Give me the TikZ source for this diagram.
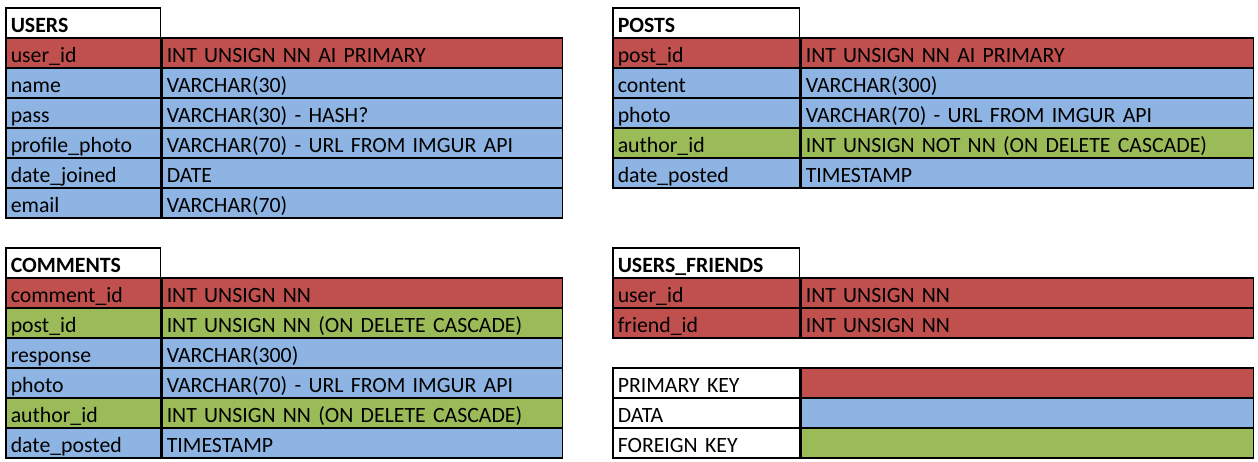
\documentclass[tikz,border=0pt]{standalone}
\usepackage{fontspec}
\setmainfont{Carlito}
\usetikzlibrary{positioning}

\definecolor{pkred}{HTML}{C0504D}
\definecolor{datblue}{HTML}{8DB4E2}
\definecolor{fkgreen}{HTML}{9BBB59}

\begin{document}
\begin{tikzpicture}[x=1pt, y=1pt, node distance=0pt,
	every node/.style={rectangle, anchor=north west, minimum height=30pt, inner xsep=5pt, inner ysep=0pt, text height=19.5pt, text depth=0.5pt, align=left, font=\fontsize{21.8}{24}\selectfont},
	cell/.style={draw, line width=1.5pt},
	keycell/.style={cell, text width=144.5pt},
	typecell/.style={cell, text width=390.5pt},
	title/.style={keycell, fill=white, font=\fontsize{21.8}{24}\selectfont\bfseries},
	pk/.style={fill=pkred}, dat/.style={fill=datblue}, fk/.style={fill=fkgreen}]
	\useasboundingbox (0,0) rectangle (1258,-461);

	% users
	\node[title] (users) at (5,-7) {USERS};
	\foreach \k/\t/\s [count=\i] in {user\_id/INT UNSIGN NN AI PRIMARY/pk, name/VARCHAR(30)/dat, pass/VARCHAR(30) - HASH?/dat, profile\_photo/VARCHAR(70) - URL FROM IMGUR API/dat, date\_joined/DATE/dat, email/VARCHAR(70)/dat}
	{
		\node[keycell, \s] (users-k\i) at (5,-7-30*\i) {\k};
		\node[typecell, \s, right=of users-k\i.north east, anchor=north west] (users-t\i) {\t};
	}

	% comments
	\node[title] (comments) at (5,-247) {COMMENTS};
	\foreach \k/\t/\s [count=\i] in {comment\_id/INT UNSIGN NN/pk, post\_id/INT UNSIGN NN (ON DELETE CASCADE)/fk, response/VARCHAR(300)/dat, photo/VARCHAR(70) - URL FROM IMGUR API/dat, author\_id/INT UNSIGN NN (ON DELETE CASCADE)/fk, date\_posted/TIMESTAMP/dat}
	{
		\node[keycell, \s] (comments-k\i) at (5,-247-30*\i) {\k};
		\node[typecell, \s, right=of comments-k\i.north east, anchor=north west] (comments-t\i) {\t};
	}

	% posts
	\node[title, text width=176.5pt] (posts) at (612,-7) {POSTS};
	\foreach \k/\t/\s [count=\i] in {post\_id/INT UNSIGN NN AI PRIMARY/pk, content/VARCHAR(300)/dat, photo/VARCHAR(70) - URL FROM IMGUR API/dat, author\_id/INT UNSIGN NOT NN (ON DELETE CASCADE)/fk, date\_posted/TIMESTAMP/dat}
	{
		\node[keycell, \s, text width=176.5pt] (posts-k\i) at (612,-7-30*\i) {\k};
		\node[typecell, \s, text width=442.5pt, right=of posts-k\i.north east, anchor=north west] (posts-t\i) {\t};
	}

	% users_friends
	\node[title, text width=176.5pt] (friends) at (612,-247) {USERS\_FRIENDS};
	\foreach \k/\t [count=\i] in {user\_id/INT UNSIGN NN, friend\_id/INT UNSIGN NN}
	{
		\node[keycell, pk, text width=176.5pt] (friends-k\i) at (612,-247-30*\i) {\k};
		\node[typecell, pk, text width=442.5pt, right=of friends-k\i.north east, anchor=north west] (friends-t\i) {\t};
	}

	% legend
	\foreach \k/\s [count=\i] in {PRIMARY KEY/pk, DATA/dat, FOREIGN KEY/fk}
	{
		\node[keycell, text width=176.5pt] (legend-k\i) at (612,-337-30*\i) {\k};
		\node[typecell, \s, text width=442.5pt, right=of legend-k\i.north east, anchor=north west] (legend-t\i) {};
	}
\end{tikzpicture}
\end{document}
